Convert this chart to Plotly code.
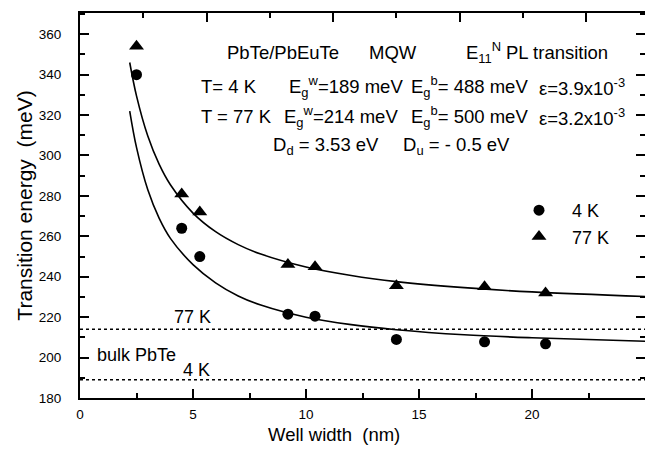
import plotly.graph_objects as go

# ---- data ----
well_4K = [2.5, 4.5, 5.3, 9.2, 10.4, 14.0, 17.9, 20.6]
E_4K = [340, 264, 250, 221.5, 220.5, 209, 207.8, 206.8]
well_77K = [2.5, 4.5, 5.3, 9.2, 10.4, 14.0, 17.9, 20.6]
E_77K = [354, 281, 272, 246, 245, 235.5, 235, 232]

fit_x = [2.2, 2.5, 3, 3.5, 4, 5, 6, 7, 8, 10, 12, 14, 17, 20, 25]
fit_4K = [322, 304, 283, 269, 259, 246, 237, 230.5, 226, 220, 216.3, 213.8, 211.3, 209.8, 208.1]
fit_77K = [346, 329.5, 309.6, 295.7, 285.5, 271.5, 262.3, 255.9, 251.2, 244.8, 240.6, 237.6, 234.6, 232.5, 230.2]

bulk_gap = [189, 214]          # bulk PbTe gap at 4 K and 77 K (meV)
x_ticks = [0, 5, 10, 15, 20]
y_ticks = [180, 200, 220, 240, 260, 280, 300, 320, 340, 360]

FONT = "Arial, Liberation Sans, Helvetica, sans-serif"
W, H = 646, 454
L, R, T, B = 80, 1, 13, 56
XR = [0, 25]
YR = [180, 370.5]

fig = go.Figure()

fig.add_trace(go.Scatter(x=fit_x, y=fit_4K, mode="lines", line=dict(color="black", width=1.6, shape="spline"),
                         showlegend=False, hoverinfo="skip"))
fig.add_trace(go.Scatter(x=fit_x, y=fit_77K, mode="lines", line=dict(color="black", width=1.6, shape="spline"),
                         showlegend=False, hoverinfo="skip"))
fig.add_trace(go.Scatter(x=well_4K, y=E_4K, mode="markers", name="4 K",
                         marker=dict(symbol="circle", size=11, color="black")))
fig.add_trace(go.Scatter(x=well_77K, y=E_77K, mode="markers", name="77 K",
                         marker=dict(symbol="triangle-up", size=13, color="black")))
# invisible trace carrying the top / right tick axes
fig.add_trace(go.Scatter(x=well_4K, y=E_4K, mode="markers", xaxis="x2", yaxis="y2",
                         marker=dict(opacity=0), showlegend=False, hoverinfo="skip"))

for g in bulk_gap:
    fig.add_shape(type="line", xref="paper", x0=0, x1=1, yref="y", y0=g, y1=g,
                  line=dict(color="black", width=1.5, dash="dot"))

def pxx(px):
    return (px - L) / (W - L - R)

def pxy(py):
    return (H - B - py) / (H - T - B)

def ann(text, px, py, anchor="left", size=18.5):
    fig.add_annotation(x=pxx(px), y=pxy(py), xref="paper", yref="paper", text=text, showarrow=False,
                       xanchor=anchor, yanchor="middle", borderpad=0,
                       font=dict(family=FONT, size=size, color="black"))

ann("PbTe/PbEuTe", 226, 52)
ann("MQW", 368, 52)
ann("E<sub>11</sub><sup>N</sup>", 465, 52)
ann("PL transition", 505, 52)

ann("T= 4 K", 200, 87)
ann("E<sub>g</sub><sup>w</sup>=189 meV", 288, 87)
ann("E<sub>g</sub><sup>b</sup>= 488 meV", 410, 87)
ann("ε=3.9x10<sup>-3</sup>", 538, 87)

ann("T = 77 K", 200, 117)
ann("E<sub>g</sub><sup>w</sup>=214 meV", 283, 117)
ann("E<sub>g</sub><sup>b</sup>= 500 meV", 410, 117)
ann("ε=3.2x10<sup>-3</sup>", 538, 117)

ann("D<sub>d</sub> = 3.53 eV", 272, 146)
ann("D<sub>u</sub> = - 0.5 eV", 402, 146)

ann("77 K", 192, 317, anchor="center", size=18)
ann("bulk PbTe", 96, 355, size=18)
ann("4 K", 196, 370, anchor="center", size=18)

# x-axis title (slightly left of plot centre, as in the reference)
ann("Well width&nbsp; (nm)", 334, 435, anchor="center", size=18.5)

tick_common = dict(ticks="inside", tickcolor="black", tickwidth=1.5, ticklen=9)
minor_common = dict(ticks="inside", ticklen=5, tickcolor="black", tickwidth=1.5)

fig.update_layout(
    width=W, height=H,
    margin=dict(l=L, r=R, t=T, b=B, pad=0),
    paper_bgcolor="white", plot_bgcolor="white",
    font=dict(family=FONT, color="black"),
    xaxis=dict(range=XR, tickvals=x_ticks, mirror=True, showgrid=False, zeroline=False,
               showline=True, linecolor="black", linewidth=2,
               minor=dict(dtick=2.5, tick0=0, **minor_common),
               ticklabelstandoff=3, tickfont=dict(family=FONT, size=13.5, color="black"),
               **tick_common),
    xaxis2=dict(range=XR, overlaying="x", side="top", showgrid=False, zeroline=False, showline=False,
                tick0=0, dtick=5.6, showticklabels=False,
                minor=dict(dtick=2.8, tick0=0, **minor_common), **tick_common),
    yaxis=dict(range=YR, tickvals=y_ticks, showgrid=False, zeroline=False,
               showline=True, linecolor="black", linewidth=2,
               minor=dict(dtick=10, tick0=180, **minor_common),
               ticklabelstandoff=14, tickfont=dict(family=FONT, size=13.5, color="black"),
               title=dict(text="Transition energy&nbsp; (meV)", font=dict(family=FONT, size=21, color="black"),
                          standoff=0),
               **tick_common),
    yaxis2=dict(range=YR, overlaying="y", side="right", showgrid=False, zeroline=False, showline=False,
                tickvals=y_ticks, showticklabels=False,
                minor=dict(dtick=10, tick0=180, **minor_common), **tick_common),
    legend=dict(x=pxx(506), y=pxy(192), xanchor="left", yanchor="top",
                bgcolor="rgba(0,0,0,0)", borderwidth=0, itemwidth=56,
                font=dict(family=FONT, size=18, color="black")),
)

fig.write_html("out.html")
